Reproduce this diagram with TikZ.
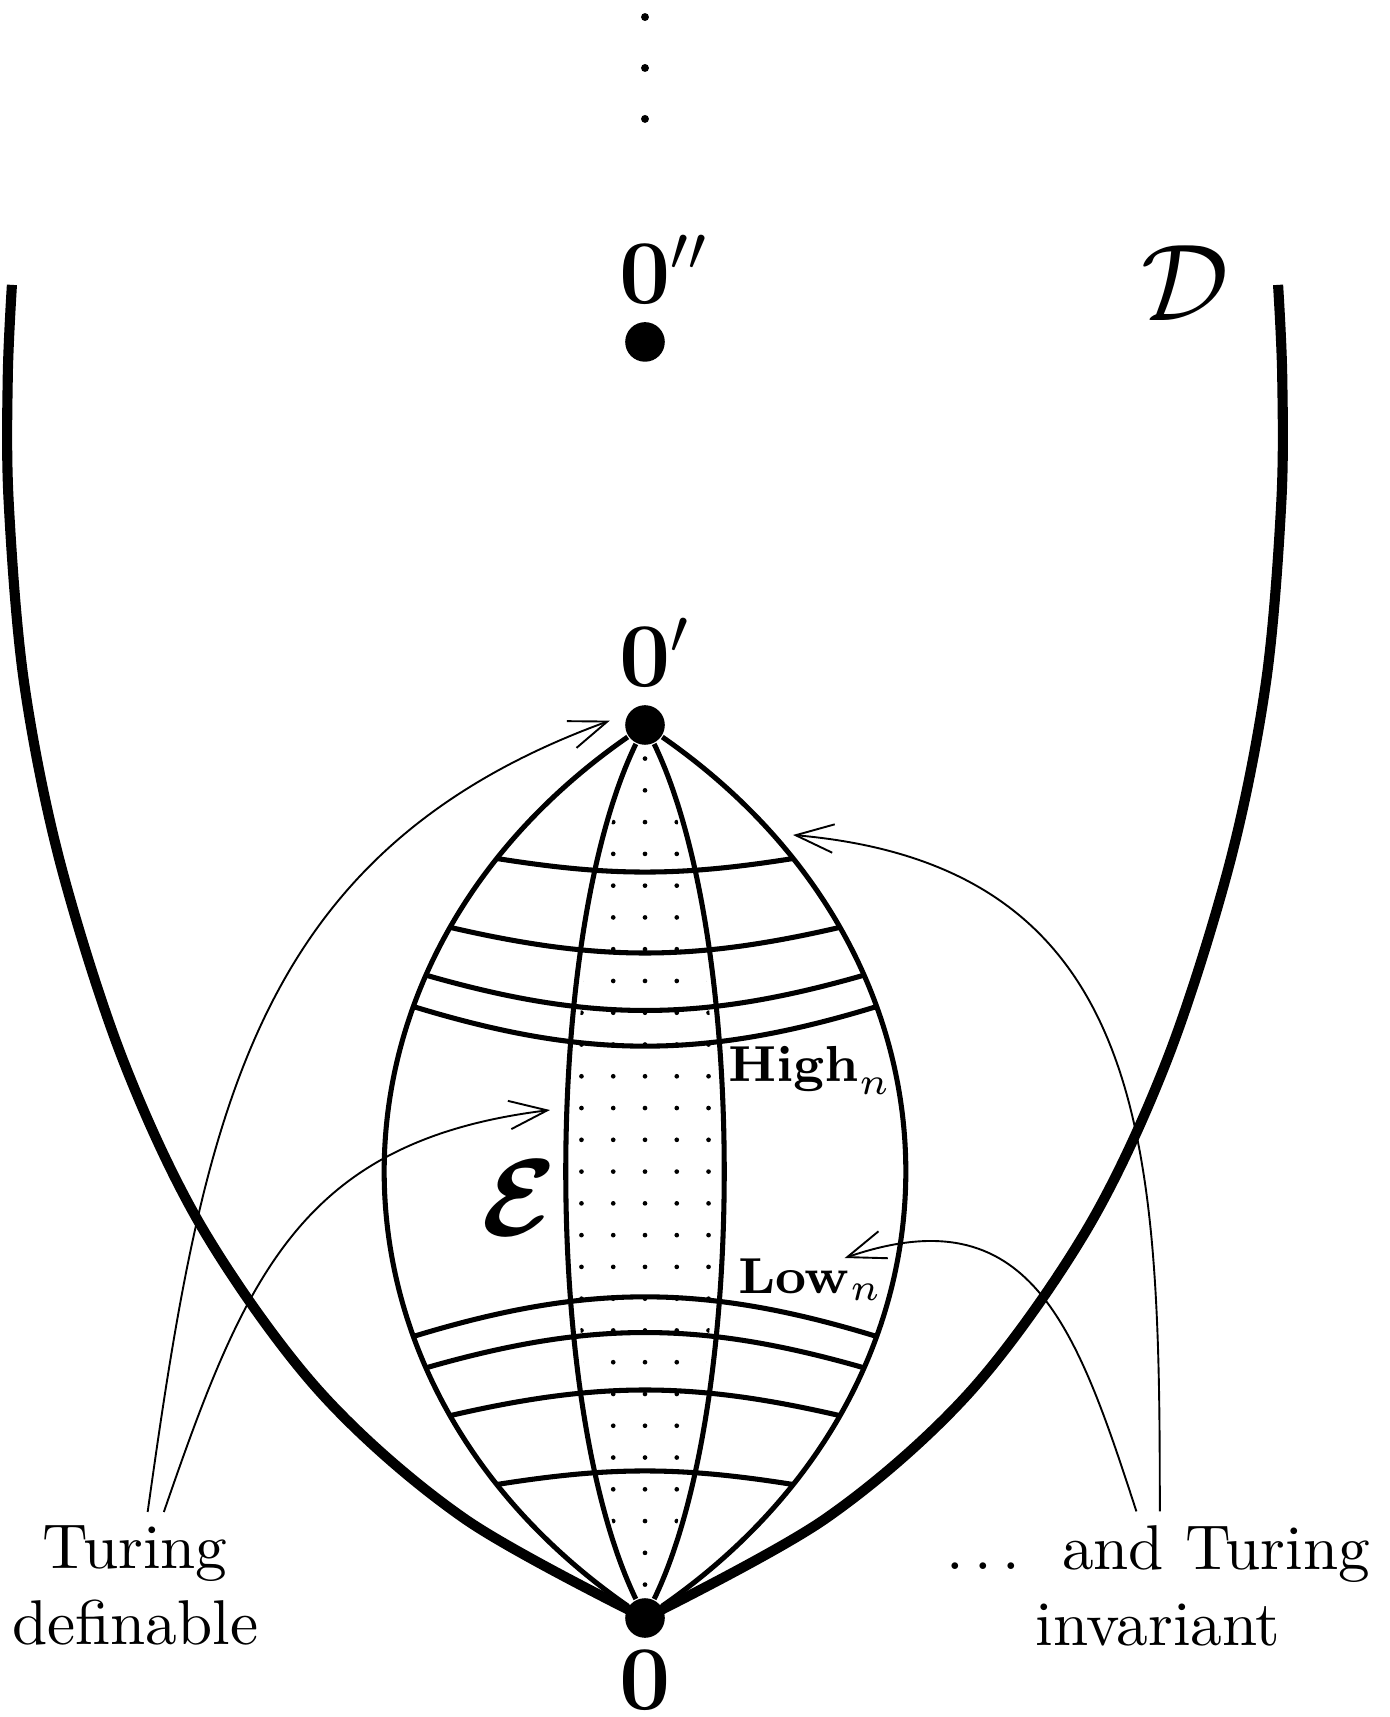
\documentclass[tikz,border=0pt]{standalone}
\usepackage{amsmath,amssymb}
\usepackage{tikz}
\usetikzlibrary{arrows.meta,positioning}
\tikzset{
  degline/.style  = {line width=1.6pt},
  lensline/.style = {thick},
  bandline/.style = {thick},
  tarr/.style     = {-{Straight Barb[length=6pt,width=4.5pt]},line width=0.3pt},
  degpt/.style    = {circle,fill,inner sep=0pt,minimum size=0.22cm},
  zlbl/.style     = {font=\Large,inner sep=0pt},
  setlbl/.style   = {font=\footnotesize,inner sep=0pt,anchor=base west},
  txt/.style      = {align=center,inner sep=2pt}
}
\newcommand{\dside}[1]{%
  \draw[degline,xscale=#1] plot[smooth,tension=0.55] coordinates
    {(0,0) (-1.0,0.55) (-1.8,1.25) (-2.45,2.15) (-2.9,3.1) (-3.25,4.2)
     (-3.45,5.2) (-3.535,6.2) (-3.54,6.9) (-3.517,7.406)};
}

\begin{document}
\begin{tikzpicture}
  \useasboundingbox (-3.5833,-0.55) rectangle (4.1333,8.9889);
  % degrees 0, 0', 0''
  \node[degpt] (z0) at (0,0) {};
  \node[degpt] (z1) at (0,4.961) {};
  \node[degpt] (z2) at (0,7.089) {};
  \node[zlbl,below=0.06cm of z0] (n0) {$\mathbf{0}$};
  \node[zlbl,above=0.09cm of z1] (n1) {$\mathbf{0}\rlap{$'$}$};
  \node[zlbl,above=0.09cm of z2] (n2) {$\mathbf{0}\rlap{$''$}$};
  \foreach \y in {8.328,8.611,8.894} \fill (0,\y) circle (0.022);
  % the degrees D
  \dside{1}
  \dside{-1}
  \node[font=\LARGE] (dlab) at (3.0,7.417) {$\mathcal{D}$};
  % dotted strip
  \begin{scope}
    \clip (0,4.961) .. controls (-0.53,3.78) and (-0.53,1.18) .. (0,0)
          .. controls (0.53,1.18) and (0.53,3.78) .. (0,4.961);
    \foreach \i in {-13,...,13}
      \foreach \j in {-2,...,2}
        \fill (\j*0.1765,2.48+\i*0.1765) circle (0.013);
  \end{scope}
  % the c.e. degrees E
  \draw[lensline] (z1) .. controls +(-1.9,-1.32) and +(-1.9,1.32) .. (z0)
    coordinate[pos=0.16] (l1) coordinate[pos=0.24] (l2)
    coordinate[pos=0.293] (l3) coordinate[pos=0.327] (l4)
    coordinate[pos=0.673] (l5) coordinate[pos=0.707] (l6)
    coordinate[pos=0.76] (l7) coordinate[pos=0.84] (l8);
  \draw[lensline] (z1) .. controls +(1.9,-1.32) and +(1.9,1.32) .. (z0)
    coordinate[pos=0.16] (r1) coordinate[pos=0.24] (r2)
    coordinate[pos=0.293] (r3) coordinate[pos=0.327] (r4)
    coordinate[pos=0.673] (r5) coordinate[pos=0.707] (r6)
    coordinate[pos=0.76] (r7) coordinate[pos=0.84] (r8);
  \draw[lensline] (z1) .. controls +(-0.57,-1.18) and +(-0.57,1.18) .. (z0);
  \draw[lensline] (z1) .. controls +(0.57,-1.18) and +(0.57,1.18) .. (z0);
  \foreach \n/\b in {1/9,2/13,3/16,4/17}
    \draw[bandline] (l\n) to[bend right=\b] (r\n);
  \foreach \n/\b in {5/17,6/16,7/13,8/9}
    \draw[bandline] (l\n) to[bend left=\b] (r\n);
  \node[font=\LARGE] (elab) at (-0.7,2.333) {$\boldsymbol{\mathcal{E}}$};
  \node[setlbl] (high) at (0.456,2.978) {$\mathbf{High}_n$};
  \node[setlbl] (lown) at (0.511,1.8) {$\mathbf{Low}_n$};
  % captions and arrows
  \node[txt] (tl) at (-2.833,0.18) {Turing\\definable};
  \node[txt] (tr) at (2.85,0.18) {$\ldots$\ \ and Turing\\invariant};
  \coordinate (defE) at (-0.528,2.822);
  \coordinate (invE) at (0.822,4.35);
  \draw[tarr,shorten >=0.1cm] ([xshift=0.07cm]tl.north) to[out=82,in=200,looseness=1.1] (z1.150);
  \draw[tarr] ([xshift=0.16cm]tl.north) to[out=71,in=187,looseness=1.15] (defE);
  \draw[tarr] ([xshift=0.01cm]tr.north) to[out=90,in=-5,looseness=1.2] (invE);
  \draw[tarr] ([xshift=-0.12cm]tr.north) to[out=108,in=19,looseness=1.3] ([xshift=0.19cm]lown.north);
\end{tikzpicture}
\end{document}
